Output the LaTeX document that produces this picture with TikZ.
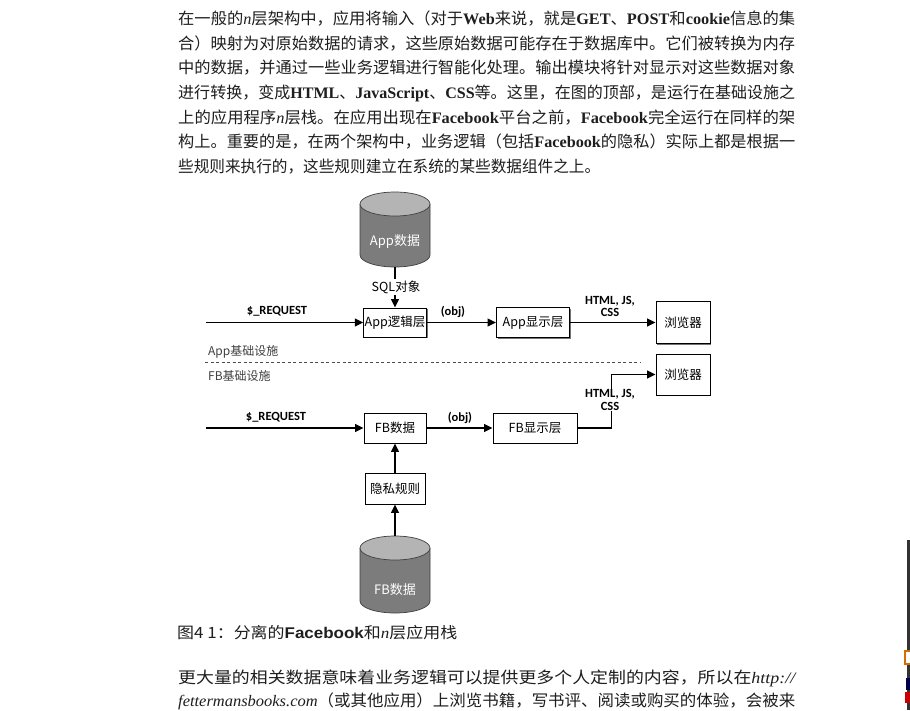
\documentclass[tikz,border=0pt]{standalone}
\usepackage{fontspec}
\usepackage{graphicx}
\setmainfont{Noto Sans CJK SC}
\newfontfamily\ser{Liberation Serif}
\newfontfamily\lsans{Liberation Sans}
\newfontfamily\carl{Carlito}
\usetikzlibrary{arrows.meta,shadows}

\definecolor{txt}{HTML}{1E1E1E}
\definecolor{cylbody}{HTML}{7C7C7C}
\definecolor{cyltop}{HTML}{B4B4B4}

\newcommand\fitw[2]{\resizebox{#1}{\height}{#2}}

\tikzset{
 para/.style={anchor=base west, inner sep=0pt, text=txt, font=\fontsize{16}{16}\selectfont},
 box/.style={draw, line width=0.9pt, fill=white, inner sep=1pt, font=\fontsize{12.5}{12.5}\selectfont,
   drop shadow={shadow xshift=1.3pt, shadow yshift=-1.3pt, fill=black!55, opacity=1}},
 conn/.style={line width=1.4pt, -{Triangle[length=8.5pt,width=8pt]}},
 blab/.style={font=\carl\bfseries\fontsize{12.5}{12.5}\selectfont, align=center, inner sep=1pt},
 infra/.style={anchor=west, inner sep=0pt, font=\fontsize{12}{12}\selectfont, text=black!75},
 cyl/.style={draw=black!75, line width=0.7pt},
}

\begin{document}
\begin{tikzpicture}[x=1pt,y=1pt]
\path[use as bounding box] (0,0) rectangle (910,-710);
\fill[white] (0,0) rectangle (910,-710);

% paragraph
\node[para] (p1) at (178,-24.3) {\fitw{617pt}{在一般的{\ser\itshape n}层架构中，应用将输入（对于{\ser\bfseries Web}来说，就是{\ser\bfseries GET}、{\ser\bfseries POST}和{\ser\bfseries cookie}信息的集}};
\node[para] (p2) at (178,-49.0) {\fitw{617pt}{合）映射为对原始数据的请求，这些原始数据可能存在于数据库中。它们被转换为内存}};
\node[para] (p3) at (178,-73.7) {\fitw{617pt}{中的数据，并通过一些业务逻辑进行智能化处理。输出模块将针对显示对这些数据对象}};
\node[para] (p4) at (178,-98.4) {\fitw{617pt}{进行转换，变成{\ser\bfseries HTML}、{\ser\bfseries JavaScript}、{\ser\bfseries CSS}等。这里，在图的顶部，是运行在基础设施之}};
\node[para] (p5) at (178,-123.1) {\fitw{617pt}{上的应用程序{\ser\itshape n}层栈。在应用出现在{\ser\bfseries Facebook}平台之前，{\ser\bfseries Facebook}完全运行在同样的架}};
\node[para] (p6) at (178,-147.8) {\fitw{617pt}{构上。重要的是，在两个架构中，业务逻辑（包括{\ser\bfseries Facebook}的隐私）实际上都是根据一}};
\node[para] (p7) at (178,-172.5) {\fitw{422pt}{些规则来执行的，这些规则建立在系统的某些数据组件之上。}};

% App cylinder
\fill[cylbody] (360,-204) -- (360,-255) arc[start angle=180,end angle=360,x radius=35,y radius=12] -- (430,-204) -- cycle;
\draw[cyl] (360,-204) -- (360,-255) arc[start angle=180,end angle=360,x radius=35,y radius=12] -- (430,-204);
\filldraw[cyl, fill=cyltop] (395,-204) ellipse [x radius=35, y radius=12];
\node[text=white, font=\fontsize{13}{13}\selectfont] (appdbl) at (395,-242) {App数据};
\coordinate (appdbb) at (395,-267);

% FB cylinder
\fill[cylbody] (360,-548) -- (360,-601) arc[start angle=180,end angle=360,x radius=35,y radius=12] -- (430,-548) -- cycle;
\draw[cyl] (360,-548) -- (360,-601) arc[start angle=180,end angle=360,x radius=35,y radius=12] -- (430,-548);
\filldraw[cyl, fill=cyltop] (395,-548) ellipse [x radius=35, y radius=12];
\node[text=white, font=\fontsize{13}{13}\selectfont] (fbdbl) at (395,-590) {FB数据};
\coordinate (fbdbt) at (395,-536);

% boxes
\node[box, minimum width=60pt, minimum height=29pt] (applogic) at (395,-322.5) {App逻辑层};
\node[box, minimum width=73pt, minimum height=30pt] (appview) at (533,-322.5) {App显示层};
\node[box, minimum width=54pt, minimum height=42pt] (br1) at (683,-322.5) {浏览器};
\node[box, minimum width=54pt, minimum height=41pt] (br2) at (683,-374.5) {浏览器};
\node[box, minimum width=62pt, minimum height=30pt] (fbdata) at (395,-428) {FB数据};
\node[box, minimum width=60pt, minimum height=31pt] (priv) at (395,-488.5) {隐私规则};
\node[box, minimum width=84pt, minimum height=30pt] (fbview) at (535,-428) {FB显示层};

% connectors
\coordinate (rq1) at (206,-322.5);
\coordinate (rq2) at (206,-428);
\draw[conn] (rq1) -- (applogic);
\draw[conn] (applogic) -- (appview);
\draw[conn] (appview) -- (br1);
\draw[conn] (appdbb) -- (applogic);
\draw[conn] (rq2) -- (fbdata);
\draw[conn] (fbdata) -- (fbview);
\draw[conn] (fbview.east) -- ++(34,0) |- (br2.west);
\draw[conn] (priv) -- (fbdata);
\draw[conn] (fbdbt) -- (priv);

% labels
\node[fill=white, inner sep=1.5pt, font=\fontsize{12.5}{12.5}\selectfont] (sql) at (396,-287) {SQL对象};
\node[blab] (rqA) at (277,-311.5) {\$\_REQUEST};
\node[blab] (objA) at (453,-311.5) {(obj)};
\node[blab] (hA) at (610,-306.5) {HTML, JS,\\CSS};
\node[blab] (rqB) at (276,-417.5) {\$\_REQUEST};
\node[blab] (objB) at (460,-417.5) {(obj)};
\node[blab, fill=white] (hB) at (610,-400) {HTML, JS,\\CSS};

% infrastructure divider
\coordinate (dl) at (205,-362);
\coordinate (dr) at (640,-362);
\draw[black!70, line width=0.7pt, dash pattern=on 3pt off 2.5pt] (dl) -- (dr);
\node[infra] (ai) at (208,-352) {App基础设施};
\node[infra] (fi) at (208,-376) {FB基础设施};

% caption and following text
\node[para, font=\fontsize{15.5}{16}\selectfont] (cap) at (177,-638.5) {\fitw{280pt}{图4 1：分离的{\lsans\bfseries Facebook}和{\ser\itshape n}层应用栈}};
\node[para] (b1) at (178,-683) {\fitw{617pt}{更大量的相关数据意味着业务逻辑可以提供更多个人定制的内容，所以在{\ser\itshape http://}}};
\node[para] (b2) at (178,-706.5) {\fitw{617pt}{{\ser\itshape fettermansbooks.com}（或其他应用）上浏览书籍，写书评、阅读或购买的体验，会被来}};

% screen edge artefacts
\fill[black!80] (906.5,-540) rectangle (910,-710);
\fill[orange!85!black] (904,-650) rectangle (910,-665);
\fill[white] (906,-652) rectangle (910,-663);
\fill[blue!30!black] (906,-678) rectangle (910,-690);
\fill[red!80!black] (905,-692) rectangle (910,-703);
\end{tikzpicture}
\end{document}
